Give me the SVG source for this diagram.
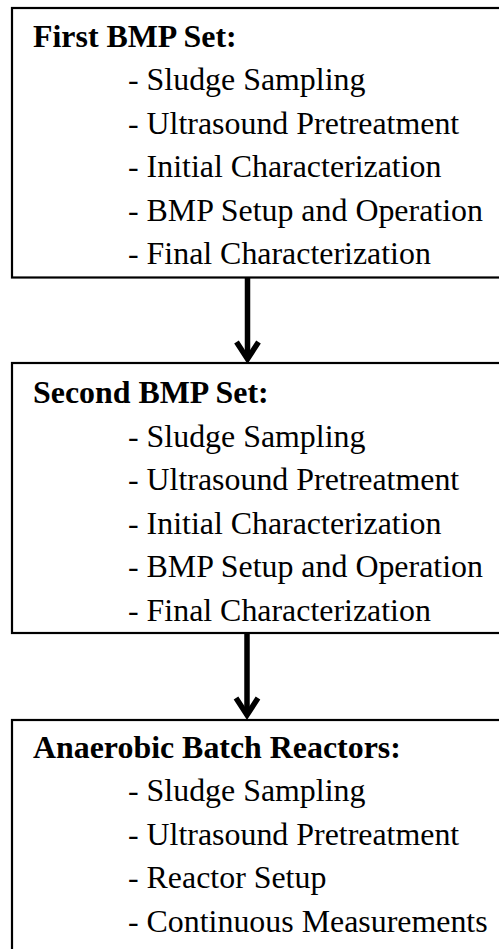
<svg xmlns="http://www.w3.org/2000/svg" width="499" height="949" viewBox="0 0 499 949">
<style>
.box{fill:#fff;stroke:#000;stroke-width:2.2}
.t{font-family:"Liberation Serif","Times New Roman",serif;font-size:31.9px;fill:#000}
.h{font-weight:bold}
.ar{fill:none;stroke:#000;stroke-width:5.5;stroke-linecap:butt;stroke-linejoin:miter}
</style>
<g id="box1">
<rect class="box" x="12" y="8" width="500" height="269.5"/>
<text class="t h" x="33" y="46.5">First BMP Set:</text>
<text class="t" x="128" y="90">- Sludge Sampling</text>
<text class="t" x="128" y="133.5">- Ultrasound Pretreatment</text>
<text class="t" x="128" y="177">- Initial Characterization</text>
<text class="t" x="128" y="220.5">- BMP Setup and Operation</text>
<text class="t" x="128" y="264">- Final Characterization</text>
</g>
<g id="box2">
<rect class="box" x="12" y="363" width="500" height="270"/>
<text class="t h" x="33" y="403">Second BMP Set:</text>
<text class="t" x="128" y="446.5">- Sludge Sampling</text>
<text class="t" x="128" y="490">- Ultrasound Pretreatment</text>
<text class="t" x="128" y="533.5">- Initial Characterization</text>
<text class="t" x="128" y="577">- BMP Setup and Operation</text>
<text class="t" x="128" y="620.5">- Final Characterization</text>
</g>
<g id="box3">
<rect class="box" x="12" y="720" width="500" height="260"/>
<text class="t h" x="33" y="757.5">Anaerobic Batch Reactors:</text>
<text class="t" x="128" y="801">- Sludge Sampling</text>
<text class="t" x="128" y="844.5">- Ultrasound Pretreatment</text>
<text class="t" x="128" y="888">- Reactor Setup</text>
<text class="t" x="128" y="931.5">- Continuous Measurements</text>
</g>
<g id="connectors">
<path class="ar" d="M247.5 278 V359"/>
<path class="ar" d="M236.5 342 L247.5 359 L258.5 342"/>
<path class="ar" d="M247 634 V715"/>
<path class="ar" d="M236 698 L247 715 L258 698"/>
</g>
</svg>
